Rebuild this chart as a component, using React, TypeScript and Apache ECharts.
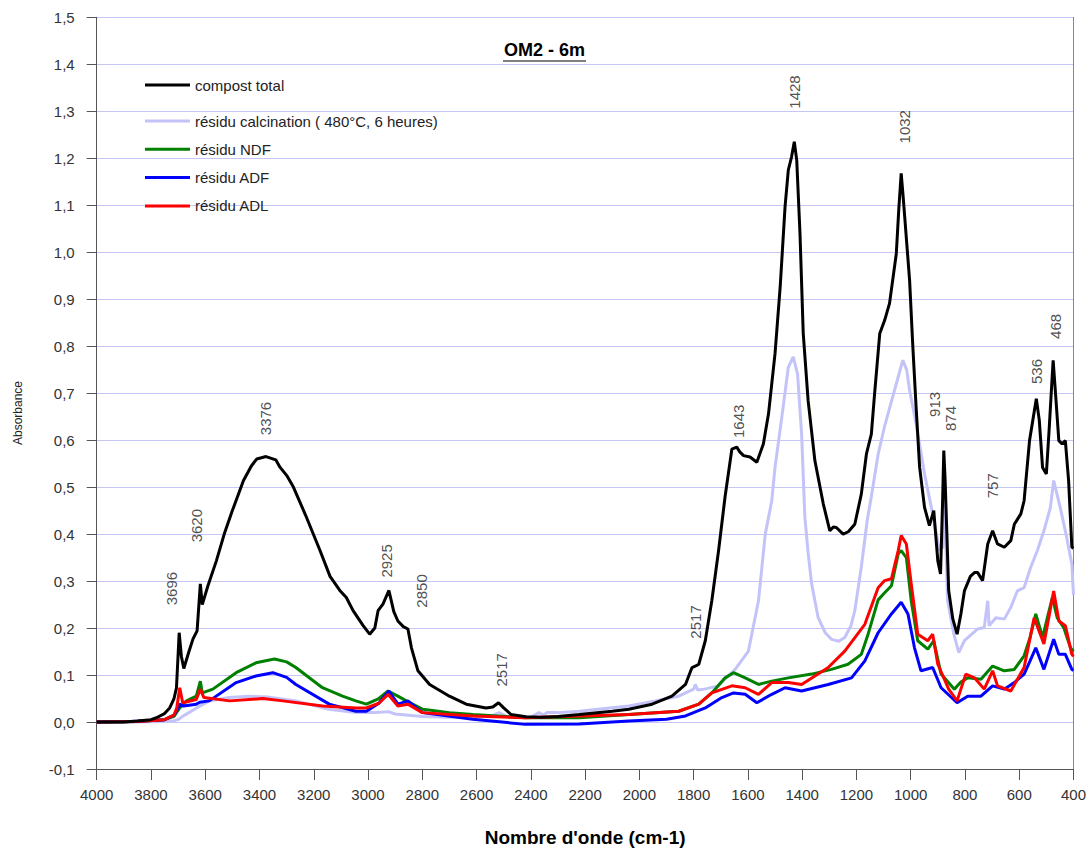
import React, { useEffect, useRef } from "react";
import * as echarts from "echarts";

// [wavenumber cm-1, absorbance]
const compostTotal: [number, number][] = [
  [4000, 0], [3900, 0], [3850, 0.002], [3800, 0.005], [3780, 0.009], [3750, 0.018], [3731, 0.03], [3715, 0.05],
  [3706, 0.073], [3696, 0.19], [3688, 0.14], [3679, 0.114], [3660, 0.15], [3645, 0.177], [3630, 0.194], [3618, 0.294],
  [3611, 0.25], [3590, 0.29], [3559, 0.343], [3530, 0.4], [3500, 0.45], [3459, 0.514], [3430, 0.545], [3410, 0.56],
  [3376, 0.565], [3340, 0.558], [3324, 0.542], [3300, 0.525], [3275, 0.5], [3230, 0.44], [3177, 0.365], [3140, 0.31],
  [3104, 0.28], [3080, 0.265], [3055, 0.237], [3018, 0.205], [2994, 0.187], [2975, 0.2], [2963, 0.237], [2945, 0.251],
  [2923, 0.28], [2905, 0.235], [2890, 0.215], [2870, 0.203], [2853, 0.198], [2840, 0.158], [2816, 0.109], [2773, 0.08],
  [2700, 0.055], [2638, 0.038], [2565, 0.03], [2540, 0.032], [2519, 0.041], [2500, 0.03], [2473, 0.016], [2418, 0.011],
  [2360, 0.01], [2300, 0.012], [2222, 0.016], [2100, 0.023], [2039, 0.027], [1953, 0.038], [1880, 0.055], [1830, 0.08],
  [1806, 0.116], [1790, 0.12], [1781, 0.123], [1757, 0.173], [1733, 0.258], [1708, 0.365], [1684, 0.48], [1659, 0.581],
  [1641, 0.585], [1630, 0.575], [1616, 0.567], [1592, 0.564], [1567, 0.553], [1543, 0.592], [1524, 0.656], [1500, 0.784],
  [1481, 0.926], [1463, 1.097], [1451, 1.175], [1439, 1.203], [1429, 1.235], [1420, 1.196], [1408, 1.04], [1396, 0.827],
  [1378, 0.684], [1353, 0.556], [1322, 0.464], [1298, 0.407], [1285, 0.415], [1274, 0.414], [1249, 0.4], [1230, 0.405],
  [1206, 0.421], [1182, 0.485], [1163, 0.571], [1145, 0.613], [1133, 0.699], [1114, 0.827], [1096, 0.855], [1078, 0.891],
  [1053, 0.997], [1044, 1.09], [1035, 1.168], [1028, 1.12], [1022, 1.075], [1004, 0.94], [992, 0.798], [980, 0.67],
  [967, 0.542], [949, 0.457], [931, 0.418], [915, 0.45], [900, 0.343], [890, 0.315], [882, 0.478], [878, 0.578],
  [873, 0.514], [860, 0.28], [845, 0.22], [829, 0.187], [815, 0.23], [802, 0.279], [780, 0.31], [765, 0.318],
  [753, 0.318], [735, 0.301], [716, 0.379], [698, 0.407], [680, 0.379], [655, 0.372], [631, 0.386], [618, 0.421],
  [594, 0.443], [582, 0.471], [562, 0.599], [537, 0.688], [526, 0.642], [514, 0.542], [500, 0.528], [490, 0.62],
  [475, 0.77], [467, 0.706], [454, 0.599], [442, 0.592], [430, 0.599], [418, 0.514], [406, 0.372], [400, 0.37],
];

const residuCalcination: [number, number][] = [
  [4000, 0], [3850, 0], [3750, 0.001], [3720, 0.002], [3700, 0.005], [3681, 0.013], [3660, 0.02], [3632, 0.03],
  [3585, 0.045], [3512, 0.052], [3438, 0.055], [3365, 0.053], [3266, 0.045], [3145, 0.027], [3045, 0.02], [2980, 0.02],
  [2925, 0.022], [2900, 0.017], [2800, 0.012], [2700, 0.01], [2600, 0.01], [2540, 0.014], [2517, 0.02], [2490, 0.012],
  [2400, 0.01], [2370, 0.02], [2355, 0.015], [2340, 0.02], [2300, 0.02], [2222, 0.023], [2039, 0.034], [1941, 0.045],
  [1855, 0.055], [1800, 0.07], [1794, 0.08], [1785, 0.068], [1760, 0.07], [1710, 0.077], [1647, 0.112], [1598, 0.151],
  [1561, 0.258], [1536, 0.4], [1512, 0.471], [1500, 0.542], [1475, 0.649], [1451, 0.755], [1433, 0.777], [1417, 0.741],
  [1402, 0.613], [1390, 0.436], [1378, 0.36], [1365, 0.294], [1341, 0.222], [1315, 0.19], [1292, 0.176], [1265, 0.172],
  [1243, 0.18], [1220, 0.205], [1206, 0.237], [1182, 0.33], [1160, 0.43], [1145, 0.48], [1120, 0.57], [1096, 0.63],
  [1053, 0.72], [1029, 0.77], [1015, 0.75], [1004, 0.706], [980, 0.635], [949, 0.528], [919, 0.443], [894, 0.365],
  [882, 0.372], [876, 0.52], [870, 0.372], [864, 0.258], [841, 0.187], [823, 0.148], [802, 0.173], [753, 0.198],
  [729, 0.201], [716, 0.258], [711, 0.205], [686, 0.222], [655, 0.219], [631, 0.244], [607, 0.279], [582, 0.286],
  [558, 0.329], [533, 0.365], [509, 0.407], [485, 0.457], [473, 0.514], [449, 0.457], [425, 0.393], [406, 0.336],
  [400, 0.27],
];

const residuNDF: [number, number][] = [
  [4000, 0], [3850, 0.001], [3750, 0.005], [3715, 0.012], [3700, 0.025], [3694, 0.03], [3669, 0.045], [3633, 0.055],
  [3618, 0.087], [3611, 0.062], [3572, 0.07], [3486, 0.105], [3413, 0.126], [3345, 0.134], [3300, 0.128], [3266, 0.116],
  [3168, 0.073], [3094, 0.055], [3045, 0.045], [3006, 0.038], [2960, 0.05], [2926, 0.066], [2890, 0.055], [2859, 0.045],
  [2798, 0.027], [2700, 0.02], [2614, 0.016], [2420, 0.009], [2222, 0.009], [2039, 0.016], [1855, 0.023], [1781, 0.038],
  [1733, 0.062], [1684, 0.094], [1653, 0.105], [1610, 0.094], [1561, 0.08], [1512, 0.087], [1451, 0.094], [1365, 0.102],
  [1292, 0.112], [1231, 0.123], [1182, 0.144], [1157, 0.187], [1120, 0.26], [1096, 0.275], [1071, 0.29], [1046, 0.358],
  [1035, 0.365], [1016, 0.35], [998, 0.258], [974, 0.173], [937, 0.155], [915, 0.173], [888, 0.102], [839, 0.07],
  [815, 0.085], [790, 0.094], [741, 0.091], [698, 0.119], [655, 0.109], [618, 0.112], [582, 0.141], [560, 0.18],
  [539, 0.23], [514, 0.18], [478, 0.265], [460, 0.222], [436, 0.201], [411, 0.158], [400, 0.15],
];

const residuADF: [number, number][] = [
  [4000, 0], [3870, 0.001], [3750, 0.005], [3715, 0.015], [3700, 0.03], [3694, 0.038], [3680, 0.034], [3633, 0.038],
  [3620, 0.042], [3585, 0.045], [3486, 0.084], [3413, 0.098], [3351, 0.105], [3300, 0.095], [3266, 0.08], [3143, 0.038],
  [3045, 0.023], [3006, 0.023], [2960, 0.04], [2923, 0.066], [2890, 0.038], [2853, 0.045], [2800, 0.02], [2614, 0.006],
  [2420, -0.005], [2222, -0.004], [2039, 0.002], [1900, 0.006], [1830, 0.013], [1757, 0.03], [1696, 0.052], [1653, 0.062],
  [1610, 0.059], [1567, 0.041], [1512, 0.059], [1463, 0.073], [1402, 0.066], [1304, 0.08], [1218, 0.094], [1169, 0.13],
  [1120, 0.19], [1071, 0.23], [1035, 0.255], [1010, 0.23], [986, 0.158], [962, 0.109], [919, 0.116], [888, 0.073],
  [829, 0.041], [790, 0.055], [741, 0.055], [698, 0.077], [655, 0.07], [618, 0.084], [582, 0.102], [560, 0.13],
  [539, 0.158], [509, 0.112], [473, 0.176], [454, 0.144], [430, 0.144], [406, 0.112], [400, 0.11],
];

const residuADL: [number, number][] = [
  [4000, 0], [3850, 0.001], [3750, 0.005], [3715, 0.015], [3705, 0.03], [3694, 0.073], [3683, 0.041], [3633, 0.048],
  [3618, 0.07], [3605, 0.052], [3510, 0.045], [3388, 0.05], [3314, 0.045], [3167, 0.034], [3045, 0.03], [3006, 0.03],
  [2960, 0.04], [2926, 0.059], [2890, 0.034], [2853, 0.038], [2800, 0.02], [2614, 0.013], [2420, 0.009], [2222, 0.013],
  [2039, 0.016], [1855, 0.023], [1781, 0.038], [1733, 0.062], [1659, 0.077], [1610, 0.073], [1561, 0.059], [1512, 0.084],
  [1451, 0.084], [1402, 0.08], [1304, 0.116], [1243, 0.151], [1169, 0.208], [1120, 0.286], [1096, 0.301], [1071, 0.305],
  [1046, 0.365], [1035, 0.397], [1016, 0.379], [998, 0.294], [974, 0.187], [937, 0.173], [919, 0.187], [900, 0.123],
  [860, 0.07], [829, 0.045], [797, 0.102], [765, 0.094], [729, 0.07], [698, 0.109], [680, 0.077], [631, 0.066],
  [582, 0.116], [545, 0.222], [509, 0.166], [473, 0.279], [454, 0.215], [430, 0.205], [406, 0.144], [400, 0.14],
];

// peak annotations: text and its anchor [wavenumber, absorbance]
const peakTexts = ["3696", "3620", "3376", "2925", "2850", "2517", "2517", "1643", "1428", "1032", "913", "874", "757", "536", "468"];
const peakAnchors: [number, number][] = [
  [3726, 0.284], [3631, 0.418], [3377, 0.646], [2931, 0.343], [2802, 0.279], [2508, 0.111], [1794, 0.213],
  [1635, 0.64], [1429, 1.341], [1024, 1.267], [913, 0.676], [854, 0.646], [700, 0.503], [535, 0.746], [468, 0.842],
];

const seriesNames = ["compost total", "résidu calcination ( 480°C, 6 heures)", "résidu NDF", "résidu ADF", "résidu ADL"];
const seriesColors = ["#000000", "#c3c3fa", "#008000", "#0000ff", "#ff0000"];

const FONT = "'Liberation Sans', Arial, sans-serif";

export default function App() {
  const ref = useRef<HTMLDivElement>(null);
  useEffect(() => {
    document.body.style.margin = "0";
    const chart = echarts.init(ref.current!, null, { renderer: "svg" });
    const datasets = [compostTotal, residuCalcination, residuNDF, residuADF, residuADL];
    const drawOrder = [1, 2, 3, 4, 0];
    const lineSeries = drawOrder.map((i) => ({
      name: seriesNames[i],
      type: "line",
      data: datasets[i],
      showSymbol: false,
      symbol: "none",
      color: seriesColors[i],
      lineStyle: { color: seriesColors[i], width: 3 },
      z: 2 + drawOrder.indexOf(i),
    }));
    const legendTextStyle = { fontFamily: FONT, fontSize: 15, color: "#222", lineHeight: 16 };
    chart.setOption({
      animation: false,
      backgroundColor: "#ffffff",
      title: {
        text: "OM2 - 6m",
        left: 499,
        top: 36,
        textStyle: { fontFamily: FONT, fontSize: 18, fontWeight: "bold", color: "#000" },
      },
      legend: [
        {
          data: [seriesNames[0]],
          left: 140,
          top: 72,
          orient: "vertical",
          icon: "rect",
          itemWidth: 45,
          itemHeight: 3,
          selectedMode: false,
          textStyle: legendTextStyle,
        },
        {
          data: seriesNames.slice(1),
          left: 140,
          top: 108,
          orient: "vertical",
          icon: "rect",
          itemWidth: 45,
          itemHeight: 3,
          itemGap: 12.3,
          selectedMode: false,
          textStyle: legendTextStyle,
        },
      ],
      grid: { left: 96.7, right: 14.7, top: 17.3, bottom: 83, containLabel: false },
      xAxis: {
        type: "value",
        inverse: true,
        min: 400,
        max: 4000,
        interval: 200,
        name: "Nombre d'onde (cm-1)",
        nameLocation: "middle",
        nameGap: 59,
        nameTextStyle: { fontFamily: FONT, fontSize: 19, fontWeight: "bold", color: "#000" },
        axisLine: { show: true, onZero: false, lineStyle: { color: "#555", width: 1 } },
        axisTick: { show: true, inside: false, length: 11, lineStyle: { color: "#555" } },
        axisLabel: {
          fontFamily: FONT,
          fontSize: 15,
          color: "#333",
          margin: 18,
          formatter: (v: number) => String(v),
        },
        splitLine: { show: false },
      },
      yAxis: [
        {
          type: "value",
          min: -0.1,
          max: 1.5,
          interval: 0.1,
          axisLine: { show: true, lineStyle: { color: "#555", width: 1 } },
          axisTick: { show: true, inside: false, length: 10, lineStyle: { color: "#555" } },
          axisLabel: {
            fontFamily: FONT,
            fontSize: 15,
            color: "#333",
            margin: 22,
            formatter: (v: number) => v.toFixed(1).replace(".", ","),
          },
          splitLine: { show: true, lineStyle: { color: "#c6c6f5", width: 1 } },
        },
        {
          type: "value",
          position: "right",
          min: -0.1,
          max: 1.5,
          interval: 0.1,
          axisLine: { show: true, lineStyle: { color: "#888", width: 1 } },
          axisTick: { show: false },
          axisLabel: { show: false },
          splitLine: { show: false },
        },
      ],
      series: [
        ...lineSeries,
        {
          name: "peaks",
          type: "scatter",
          symbolSize: 0,
          silent: true,
          z: 20,
          data: peakTexts.map((t, i) => ({ name: t, value: peakAnchors[i] })),
          label: {
            show: true,
            position: "inside",
            rotate: 90,
            formatter: (p: any) => p.name,
            fontFamily: FONT,
            fontSize: 15,
            color: "#222",
          },
        },
      ],
      graphic: [
        {
          type: "line",
          shape: { x1: 503, y1: 61, x2: 586, y2: 61 },
          style: { stroke: "#000", lineWidth: 1.2 },
        },
        {
          type: "text",
          x: 18,
          y: 413,
          rotation: Math.PI / 2,
          style: {
            text: "Absorbance",
            fontFamily: FONT,
            fontSize: 12,
            fill: "#222",
            align: "center",
            verticalAlign: "middle",
          },
        },
      ],
    });
    return () => chart.dispose();
  }, []);
  return <div ref={ref} style={{ position: "fixed", left: 0, top: 0, width: 1089, height: 852 }} />;
}
